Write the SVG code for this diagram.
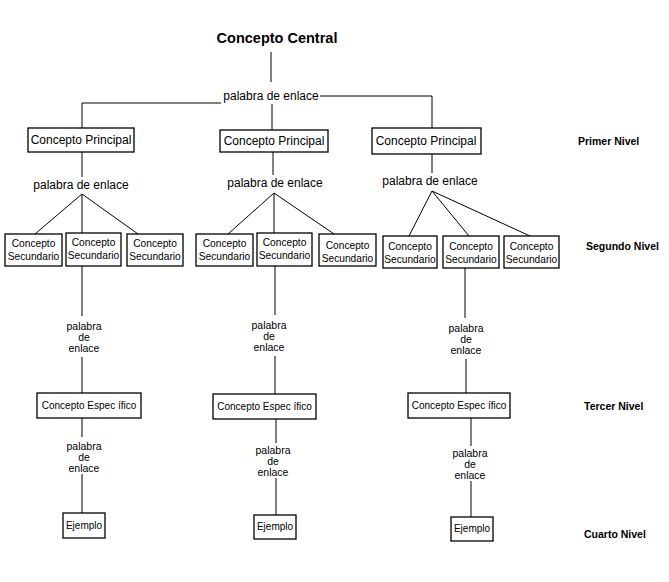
<svg xmlns="http://www.w3.org/2000/svg" width="669" height="582" viewBox="0 0 669 582">
<style>
text{font-family:"Liberation Sans",Arial,sans-serif;fill:#000}
.t{font-size:14.5px;font-weight:bold}
.lv{font-size:10.5px;font-weight:bold}
.lk{font-size:12px}
.lk2{font-size:10.5px}
.bx{fill:#fff;stroke:#000;stroke-width:1.3}
.p{font-size:12px}
.s{font-size:10.2px}
.e{font-size:10px}
.c line{stroke:#000;stroke-width:1}
</style>
<rect width="669" height="582" fill="#fff"/>
<g class="c" id="connectors">
<line x1="271" y1="52" x2="271" y2="82"/>
<line x1="82" y1="103" x2="221" y2="103"/>
<line x1="320" y1="96" x2="432" y2="96"/>
<line x1="82" y1="103" x2="82" y2="128"/>
<line x1="272" y1="104" x2="272" y2="130"/>
<line x1="432" y1="96" x2="432" y2="128"/>
<line x1="82" y1="152" x2="82" y2="177"/>
<line x1="273" y1="152" x2="273" y2="175"/>
<line x1="432" y1="154" x2="432" y2="173"/>
<line x1="82" y1="194" x2="35" y2="234"/>
<line x1="82" y1="194" x2="82" y2="233"/>
<line x1="82" y1="194" x2="138" y2="234"/>
<line x1="274" y1="193" x2="228" y2="234"/>
<line x1="274" y1="193" x2="274" y2="233"/>
<line x1="274" y1="193" x2="334" y2="234"/>
<line x1="432" y1="191" x2="409" y2="236"/>
<line x1="432" y1="191" x2="469" y2="236"/>
<line x1="432" y1="191" x2="530" y2="236"/>
<line x1="82" y1="266" x2="82" y2="316"/>
<line x1="82" y1="357" x2="82" y2="393"/>
<line x1="275" y1="266" x2="275" y2="315"/>
<line x1="275" y1="356" x2="275" y2="394"/>
<line x1="465" y1="268" x2="465" y2="318"/>
<line x1="466" y1="359" x2="466" y2="393"/>
<line x1="82" y1="418" x2="82" y2="437"/>
<line x1="82" y1="474" x2="82" y2="513"/>
<line x1="276" y1="419" x2="276" y2="443"/>
<line x1="276" y1="478" x2="276" y2="515"/>
<line x1="471" y1="418" x2="471" y2="446"/>
<line x1="471" y1="481" x2="471" y2="517"/>
</g>
<g id="central"><text class="t" x="277" y="43" text-anchor="middle">Concepto Central</text></g>
<g id="link0"><text class="lk" x="271" y="100" text-anchor="middle">palabra de enlace</text></g>
<g id="p1"><rect class="bx" x="28" y="128" width="106" height="24"/><text class="p" x="81" y="144" text-anchor="middle">Concepto Principal</text></g>
<g id="p2"><rect class="bx" x="220" y="130" width="108" height="22"/><text class="p" x="274" y="145" text-anchor="middle">Concepto Principal</text></g>
<g id="p3"><rect class="bx" x="372" y="128" width="109" height="26"/><text class="p" x="426" y="145" text-anchor="middle">Concepto Principal</text></g>
<g id="l1"><text class="lk" x="81" y="189" text-anchor="middle">palabra de enlace</text></g>
<g id="l2"><text class="lk" x="275" y="187" text-anchor="middle">palabra de enlace</text></g>
<g id="l3"><text class="lk" x="430" y="185" text-anchor="middle">palabra de enlace</text></g>
<g id="s1a"><rect class="bx" x="5" y="234" width="57" height="32"/><text class="s" x="33.5" y="247" text-anchor="middle">Concepto</text><text class="s" x="33.5" y="260" text-anchor="middle">Secundario</text></g>
<g id="s1b"><rect class="bx" x="66" y="233" width="55" height="33"/><text class="s" x="93.5" y="246" text-anchor="middle">Concepto</text><text class="s" x="93.5" y="259" text-anchor="middle">Secundario</text></g>
<g id="s1c"><rect class="bx" x="127" y="234" width="56" height="32"/><text class="s" x="155" y="247" text-anchor="middle">Concepto</text><text class="s" x="155" y="260" text-anchor="middle">Secundario</text></g>
<g id="s2a"><rect class="bx" x="196" y="234" width="57" height="32"/><text class="s" x="224.5" y="247" text-anchor="middle">Concepto</text><text class="s" x="224.5" y="260" text-anchor="middle">Secundario</text></g>
<g id="s2b"><rect class="bx" x="257" y="233" width="55" height="33"/><text class="s" x="284.5" y="246" text-anchor="middle">Concepto</text><text class="s" x="284.5" y="259" text-anchor="middle">Secundario</text></g>
<g id="s2c"><rect class="bx" x="319" y="234" width="57" height="32"/><text class="s" x="347.5" y="249" text-anchor="middle">Concepto</text><text class="s" x="347.5" y="262" text-anchor="middle">Secundario</text></g>
<g id="s3a"><rect class="bx" x="383" y="236" width="54" height="32"/><text class="s" x="410" y="250" text-anchor="middle">Concepto</text><text class="s" x="410" y="263" text-anchor="middle">Secundario</text></g>
<g id="s3b"><rect class="bx" x="443" y="236" width="56" height="32"/><text class="s" x="471" y="250" text-anchor="middle">Concepto</text><text class="s" x="471" y="263" text-anchor="middle">Secundario</text></g>
<g id="s3c"><rect class="bx" x="504" y="236" width="55" height="32"/><text class="s" x="531.5" y="250" text-anchor="middle">Concepto</text><text class="s" x="531.5" y="263" text-anchor="middle">Secundario</text></g>
<g id="m1"><text class="lk2" x="84" y="330" text-anchor="middle">palabra</text><text class="lk2" x="84" y="341" text-anchor="middle">de</text><text class="lk2" x="84" y="352" text-anchor="middle">enlace</text></g>
<g id="m2"><text class="lk2" x="269" y="329" text-anchor="middle">palabra</text><text class="lk2" x="269" y="340" text-anchor="middle">de</text><text class="lk2" x="269" y="351" text-anchor="middle">enlace</text></g>
<g id="m3"><text class="lk2" x="466" y="332" text-anchor="middle">palabra</text><text class="lk2" x="466" y="343" text-anchor="middle">de</text><text class="lk2" x="466" y="354" text-anchor="middle">enlace</text></g>
<g id="e1"><rect class="bx" x="37" y="393" width="104" height="25"/><text class="e" x="89" y="409" text-anchor="middle">Concepto Espec ífico</text></g>
<g id="e2"><rect class="bx" x="213" y="394" width="103" height="25"/><text class="e" x="264.5" y="410" text-anchor="middle">Concepto Espec ífico</text></g>
<g id="e3"><rect class="bx" x="408" y="393" width="102" height="25"/><text class="e" x="459" y="409" text-anchor="middle">Concepto Espec ífico</text></g>
<g id="n1"><text class="lk2" x="84" y="450" text-anchor="middle">palabra</text><text class="lk2" x="84" y="461" text-anchor="middle">de</text><text class="lk2" x="84" y="472" text-anchor="middle">enlace</text></g>
<g id="n2"><text class="lk2" x="273" y="454" text-anchor="middle">palabra</text><text class="lk2" x="273" y="465" text-anchor="middle">de</text><text class="lk2" x="273" y="476" text-anchor="middle">enlace</text></g>
<g id="n3"><text class="lk2" x="470" y="457" text-anchor="middle">palabra</text><text class="lk2" x="470" y="468" text-anchor="middle">de</text><text class="lk2" x="470" y="479" text-anchor="middle">enlace</text></g>
<g id="x1"><rect class="bx" x="63" y="513" width="42" height="25"/><text class="e" x="84" y="529" text-anchor="middle">Ejemplo</text></g>
<g id="x2"><rect class="bx" x="254" y="515" width="42" height="24"/><text class="e" x="275" y="530" text-anchor="middle">Ejemplo</text></g>
<g id="x3"><rect class="bx" x="451" y="517" width="42" height="24"/><text class="e" x="472" y="532" text-anchor="middle">Ejemplo</text></g>
<g id="levels">
<text class="lv" x="578" y="145">Primer Nivel</text>
<text class="lv" x="586" y="250">Segundo Nivel</text>
<text class="lv" x="584" y="410">Tercer Nivel</text>
<text class="lv" x="584" y="538">Cuarto Nivel</text>
</g>
</svg>
